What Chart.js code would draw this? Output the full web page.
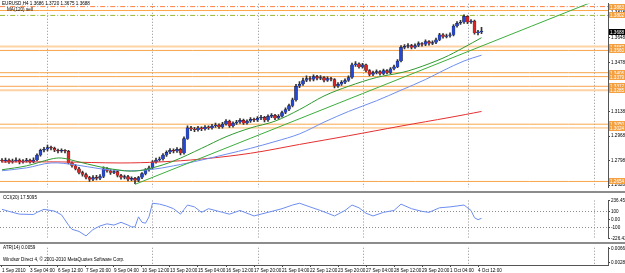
<!DOCTYPE html>
<html>
<head>
<meta charset="utf-8">
<script src="https://cdn.jsdelivr.net/npm/chart.js@4.4.1/dist/chart.umd.min.js"></script>
<style>
  html, body { margin: 0; padding: 0; background: #fff; }
  #wrap { position: relative; width: 625px; height: 273px; overflow: hidden; background: #fff; }
  #wrap canvas, .sep { position: absolute; left: 0; }
  .sep { width: 625px; background: #8c8c8c; }
</style>
</head>
<body>
<div id="wrap">
  <canvas id="main" width="625" height="191" style="top:0"></canvas>
  <div class="sep" style="top:191px;height:2px"></div>
  <canvas id="cci" width="625" height="49" style="top:193px"></canvas>
  <div class="sep" style="top:242px;height:2px"></div>
  <canvas id="atr" width="625" height="29" style="top:244px"></canvas>
</div>
<script>
/* EURUSD H4, 1 Sep 20:00 .. 4 Oct 16:00 (bar index 0..137) */

const opens = [
  1.2800, 1.2795, 1.2802, 1.2789, 1.2795, 1.2802, 1.2789, 1.2795, 1.2802, 1.2789,
  1.2802, 1.2836, 1.2869, 1.2876, 1.2889, 1.2883, 1.2869, 1.2863, 1.2869, 1.2863,
  1.2782, 1.2762, 1.2742, 1.2715, 1.2702, 1.2681, 1.2668, 1.2681, 1.2675, 1.2688,
  1.2742, 1.2728, 1.2715, 1.2722, 1.2695, 1.2681, 1.2688, 1.2668, 1.2675, 1.2661,
  1.2681, 1.2708, 1.2735, 1.2748, 1.2789, 1.2802, 1.2809, 1.2836, 1.2856, 1.2869,
  1.2863, 1.2876, 1.2849, 1.2950, 1.3024, 1.3017, 1.3010, 1.3024, 1.3017, 1.3030,
  1.3024, 1.3037, 1.3044, 1.3030, 1.3050, 1.3071, 1.3037, 1.3057, 1.3064, 1.3077,
  1.3057, 1.3071, 1.3084, 1.3077, 1.3091, 1.3097, 1.3077, 1.3104, 1.3111, 1.3091,
  1.3104, 1.3131, 1.3151, 1.3178, 1.3218, 1.3312, 1.3326, 1.3352, 1.3366, 1.3359,
  1.3379, 1.3366, 1.3373, 1.3352, 1.3366, 1.3359, 1.3312, 1.3326, 1.3339, 1.3352,
  1.3373, 1.3460, 1.3467, 1.3446, 1.3460, 1.3420, 1.3393, 1.3406, 1.3413, 1.3399,
  1.3420, 1.3406, 1.3433, 1.3446, 1.3487, 1.3581, 1.3587, 1.3594, 1.3581, 1.3594,
  1.3607, 1.3601, 1.3621, 1.3607, 1.3614, 1.3634, 1.3668, 1.3654, 1.3661, 1.3668,
  1.3728, 1.3748, 1.3755, 1.3795, 1.3755, 1.3762, 1.3681, 1.3686
];
const highs = [
  1.2812, 1.2815, 1.2810, 1.2808, 1.2818, 1.2811, 1.2806, 1.2814, 1.2809, 1.2817,
  1.2845, 1.2878, 1.2890, 1.2906, 1.2899, 1.2891, 1.2878, 1.2880, 1.2875, 1.2870,
  1.2790, 1.2770, 1.2751, 1.2725, 1.2712, 1.2690, 1.2694, 1.2696, 1.2702, 1.2755,
  1.2750, 1.2736, 1.2735, 1.2729, 1.2703, 1.2699, 1.2697, 1.2686, 1.2683, 1.2690,
  1.2716, 1.2743, 1.2760, 1.2798, 1.2815, 1.2822, 1.2847, 1.2866, 1.2882, 1.2879,
  1.2888, 1.2884, 1.2962, 1.3038, 1.3036, 1.3028, 1.3035, 1.3032, 1.3041, 1.3038,
  1.3049, 1.3058, 1.3052, 1.3062, 1.3082, 1.3078, 1.3066, 1.3077, 1.3089, 1.3085,
  1.3080, 1.3096, 1.3093, 1.3103, 1.3112, 1.3105, 1.3115, 1.3124, 1.3118, 1.3116,
  1.3140, 1.3163, 1.3189, 1.3230, 1.3326, 1.3345, 1.3368, 1.3385, 1.3379, 1.3392,
  1.3388, 1.3386, 1.3380, 1.3377, 1.3374, 1.3366, 1.3337, 1.3351, 1.3363, 1.3384,
  1.3472, 1.3482, 1.3475, 1.3471, 1.3466, 1.3428, 1.3417, 1.3425, 1.3420, 1.3431,
  1.3428, 1.3442, 1.3459, 1.3496, 1.3593, 1.3601, 1.3607, 1.3602, 1.3606, 1.3619,
  1.3615, 1.3633, 1.3628, 1.3626, 1.3645, 1.3679, 1.3676, 1.3673, 1.3681, 1.3738,
  1.3760, 1.3768, 1.3806, 1.3800, 1.3774, 1.3769, 1.3699, 1.3720
];
const lows = [
  1.2788, 1.2786, 1.2779, 1.2781, 1.2790, 1.2776, 1.2780, 1.2788, 1.2781, 1.2784,
  1.2798, 1.2829, 1.2858, 1.2866, 1.2872, 1.2860, 1.2852, 1.2855, 1.2851, 1.2775,
  1.2752, 1.2733, 1.2706, 1.2690, 1.2672, 1.2655, 1.2660, 1.2664, 1.2667, 1.2680,
  1.2718, 1.2703, 1.2708, 1.2686, 1.2670, 1.2672, 1.2657, 1.2659, 1.2638, 1.2652,
  1.2674, 1.2699, 1.2726, 1.2740, 1.2781, 1.2794, 1.2801, 1.2828, 1.2847, 1.2852,
  1.2855, 1.2838, 1.2843, 1.2944, 1.3005, 1.2998, 1.3002, 1.3006, 1.3009, 1.3014,
  1.3016, 1.3028, 1.3021, 1.3022, 1.3043, 1.3027, 1.3030, 1.3048, 1.3055, 1.3049,
  1.3050, 1.3063, 1.3068, 1.3070, 1.3082, 1.3066, 1.3070, 1.3095, 1.3082, 1.3085,
  1.3098, 1.3122, 1.3143, 1.3170, 1.3210, 1.3302, 1.3318, 1.3344, 1.3348, 1.3350,
  1.3356, 1.3358, 1.3343, 1.3345, 1.3349, 1.3300, 1.3305, 1.3318, 1.3331, 1.3345,
  1.3366, 1.3450, 1.3437, 1.3438, 1.3411, 1.3383, 1.3386, 1.3397, 1.3389, 1.3392,
  1.3397, 1.3400, 1.3425, 1.3440, 1.3480, 1.3570, 1.3578, 1.3571, 1.3574, 1.3586,
  1.3590, 1.3593, 1.3597, 1.3600, 1.3606, 1.3627, 1.3645, 1.3646, 1.3652, 1.3661,
  1.3720, 1.3739, 1.3747, 1.3745, 1.3746, 1.3672, 1.3667, 1.3675
];
const closes = [
  1.2795, 1.2802, 1.2789, 1.2795, 1.2802, 1.2789, 1.2795, 1.2802, 1.2789, 1.2802,
  1.2836, 1.2869, 1.2876, 1.2889, 1.2883, 1.2869, 1.2863, 1.2869, 1.2863, 1.2782,
  1.2762, 1.2742, 1.2715, 1.2702, 1.2681, 1.2668, 1.2681, 1.2675, 1.2688, 1.2742,
  1.2728, 1.2715, 1.2722, 1.2695, 1.2681, 1.2688, 1.2668, 1.2675, 1.2661, 1.2681,
  1.2708, 1.2735, 1.2748, 1.2789, 1.2802, 1.2809, 1.2836, 1.2856, 1.2869, 1.2863,
  1.2876, 1.2849, 1.2950, 1.3024, 1.3017, 1.3010, 1.3024, 1.3017, 1.3030, 1.3024,
  1.3037, 1.3044, 1.3030, 1.3050, 1.3071, 1.3037, 1.3057, 1.3064, 1.3077, 1.3057,
  1.3071, 1.3084, 1.3077, 1.3091, 1.3097, 1.3077, 1.3104, 1.3111, 1.3091, 1.3104,
  1.3131, 1.3151, 1.3178, 1.3218, 1.3312, 1.3326, 1.3352, 1.3366, 1.3359, 1.3379,
  1.3366, 1.3373, 1.3352, 1.3366, 1.3359, 1.3312, 1.3326, 1.3339, 1.3352, 1.3373,
  1.3460, 1.3467, 1.3446, 1.3460, 1.3420, 1.3393, 1.3406, 1.3413, 1.3399, 1.3420,
  1.3406, 1.3433, 1.3446, 1.3487, 1.3581, 1.3587, 1.3594, 1.3581, 1.3594, 1.3607,
  1.3601, 1.3621, 1.3607, 1.3614, 1.3634, 1.3668, 1.3654, 1.3661, 1.3668, 1.3728,
  1.3748, 1.3755, 1.3795, 1.3755, 1.3762, 1.3681, 1.3686, 1.3688
];

// moving averages, read at some bars only
const slowMaBars = [0, 17, 34, 45, 57, 71, 85, 99, 114, 128, 137];
const slowMa = [1.2789, 1.2789, 1.2782, 1.2789, 1.2809, 1.2849, 1.2910, 1.2970, 1.3037, 1.3097, 1.3138];
const midMaBars = [0, 7, 14, 21, 28, 35, 42, 49, 57, 64, 71, 78, 85, 92, 99, 107, 114, 121, 126, 132, 137];
const midMa = [1.2728, 1.2748, 1.2782, 1.2769, 1.2742, 1.2728, 1.2735, 1.2762, 1.2802, 1.2842,
  1.2883, 1.2930, 1.2983, 1.3064, 1.3138, 1.3212, 1.3285, 1.3359, 1.3420, 1.3487, 1.3527];
const fastMaBars = [0, 7, 14, 17, 21, 28, 35, 39, 43, 49, 57, 64, 71, 78, 85, 92, 99, 107, 114, 118, 126, 132, 137];
const fastMa = [1.2735, 1.2762, 1.2809, 1.2816, 1.2795, 1.2755, 1.2728, 1.2728, 1.2748, 1.2795,
  1.2883, 1.2963, 1.3024, 1.3071, 1.3151, 1.3245, 1.3312, 1.3373, 1.3406, 1.3433,
  1.3507, 1.3581, 1.3648];

// trend line (two anchor points)
const trendBars = [38, 168];
const trendPrices = [1.2634, 1.3889];

// horizontal levels
const levelPrices = [1.3863, 1.3836, 1.3802, 1.3587, 1.3560, 1.3406, 1.3379, 1.3312, 1.3285, 1.3050, 1.3024, 1.2654];

// CCI(20)
const cciBars = [0, 2, 5, 9, 10, 12, 15, 17, 19, 20, 22, 24, 26, 28, 30, 32, 34, 36, 37, 38,
  39, 40, 41, 42, 43, 45, 47, 49, 51, 52, 53, 55, 57, 59, 63, 65, 68, 72, 76, 80,
  83, 85, 88, 91, 95, 98, 100, 102, 104, 106, 109, 112, 114, 117, 120, 122, 125, 128, 130, 132,
  134, 135, 136, 137];
const cciValues = [128, 103, 69, 65, 91, 128, 106, 61, -65, -117, -143, -198, -120, -76, -50, -65, -31, -65, -87, -87,
  36, -31, -42, 36, 203, 192, 169, 136, 69, 125, 181, 158, 91, 136, 91, 69, 114, 47, 91, 136,
  181, 203, 158, 114, 47, 114, 181, 147, 80, 47, 91, 114, 192, 136, 103, 91, 147, 158, 169, 181,
  114, 25, 2, 17.5095];
const atrLast = 0.0059;

// axes
const priceTicks = [1.2628, 1.2798, 1.2968, 1.3138, 1.3308, 1.3478, 1.3648, 1.3818];
const cciTicks = [-226.435, -100, 0, 100, 236.458];
const cciTickText = ['-226.435', '-100', '0.00', '100', '236.458'];
const atrTicks = [0.0028, 0.0066];
const labelBars = [0, 8, 16, 24, 32, 40, 48, 56, 64, 72, 80, 88, 96, 104, 112, 120, 128, 136];
const timeLabels = ['1 Sep 2010', '3 Sep 04:00', '6 Sep 12:00', '7 Sep 20:00', '9 Sep 04:00', '10 Sep 12:00',
  '13 Sep 20:00', '15 Sep 04:00', '16 Sep 12:00', '17 Sep 20:00', '21 Sep 04:00', '22 Sep 12:00',
  '23 Sep 20:00', '27 Sep 04:00', '28 Sep 12:00', '29 Sep 20:00', '1 Oct 04:00', '4 Oct 12:00'];
const gridBars = [13, 43, 73, 103, 133, 169];

// styles
const FONT = { family: '"Liberation Sans", Arial, sans-serif', size: 4.6 };
const X_MIN = -0.57, X_MAX = 173.14;
const levelColors = ['#ff7f3f', '#ffa64d', '#9cb833', '#fdd2a4', '#f7a54a', '#f7a54a',
  '#f7a54a', '#f7a54a', '#fdd2a4', '#f7a54a', '#f9b869', '#f7a54a'];
const levelWidths = [1, 1, 1, 2, 1, 1, 1, 1, 2, 1, 1, 1];
const levelDashes = [[5, 2, 1, 2], [], [5, 2, 1, 2], [], [], [], [], [], [], [], [], []];
const levelBoxed = [true, false, true, true, true, true, true, true, true, true, true, true];

// MT4 style: vertical dotted grid + texts + price boxes on the right scale
const mtPanel = {
  id: 'mtPanel',
  beforeDatasetsDraw(chart) {
    const { ctx, chartArea: a, scales } = chart;
    ctx.save();
    ctx.strokeStyle = '#8e8e8e';
    ctx.lineWidth = 1;
    ctx.setLineDash([1, 2]);
    gridBars.forEach((b) => {
      const px = Math.round(scales.x.getPixelForValue(b)) + 0.5;
      ctx.beginPath();
      ctx.moveTo(px, a.top);
      ctx.lineTo(px, a.bottom);
      ctx.stroke();
    });
    ctx.restore();
  },
  afterDraw(chart, args, opts) {
    const { ctx, chartArea: a, scales } = chart;
    ctx.save();
    ctx.font = `${FONT.size}px ${FONT.family}`;
    ctx.textBaseline = 'middle';
    (opts.texts || []).forEach((t) => {
      ctx.fillStyle = t.color || '#000';
      ctx.fillText(t.text, t.x, t.y);
    });
    (opts.boxes || []).forEach((b) => {
      const py = Math.round(scales.y.getPixelForValue(b.value));
      ctx.fillStyle = b.bg;
      ctx.fillRect(a.right + 1, py - 3, 16, 6);
      ctx.fillStyle = b.fg;
      ctx.fillText(b.text, a.right + 2, py + 0.5);
    });
    ctx.restore();
  },
};
Chart.register(mtPanel);

const xScale = { type: 'linear', min: X_MIN, max: X_MAX, offset: false, display: false };
const yRight = (extra) => Object.assign({
  position: 'right',
  afterFit: (s) => { s.width = 17; },
  ticks: { font: FONT, color: '#000', padding: 1 },
  grid: { drawOnChartArea: false, tickLength: 2, tickColor: '#444' },
  border: { color: '#555' },
}, extra);
const baseOpts = { responsive: false, animation: false, events: [], devicePixelRatio: 1 };

/* main price window */
const last = closes.length - 1;
const bars = closes.map((c, i) => i);
const line = (xs, ys, color, width, dash, order) => ({
  type: 'line',
  data: xs.map((x, i) => ({ x: x, y: ys[i] })),
  borderColor: color, borderWidth: width, borderDash: dash || [],
  pointRadius: 0, tension: 0.35, order: order,
});

const datasets = [
  line(fastMaBars, fastMa, '#2f9a2f', 1, [], 0),
  line(trendBars, trendPrices, '#3cae3c', 1, [], 1),
  line(midMaBars, midMa, '#6d8ef0', 1, [], 2),
  line(slowMaBars, slowMa, '#e53030', 1, [], 3),
  {
    type: 'bar', grouped: false, order: 5,
    data: bars.map((i) => ({ x: i, y: [Math.min(opens[i], closes[i]), Math.max(opens[i], closes[i])] })),
    backgroundColor: bars.map((i) => (closes[i] >= opens[i] ? '#2447d6' : '#e12222')),
    borderColor: '#1a1a1a', borderWidth: 0.5,
    barThickness: 3, minBarLength: 1,
  },
  {
    type: 'bar', grouped: false, order: 6,
    data: bars.map((i) => ({ x: i, y: [lows[i], highs[i]] })),
    backgroundColor: '#333', barThickness: 1,
  },
].concat(levelPrices.map((p, k) => line([X_MIN, X_MAX], [p, p], levelColors[k], levelWidths[k], levelDashes[k], 10)));

const boxes = levelPrices
  .map((p, k) => ({ value: p, text: p.toFixed(4), bg: '#f5a040', fg: '#fff', show: levelBoxed[k] }))
  .filter((b) => b.show)
  .concat([{ value: closes[last], text: closes[last].toFixed(4), bg: '#000', fg: '#fff' }]);

new Chart(document.getElementById('main'), {
  type: 'bar',
  data: { datasets: datasets },
  options: Object.assign({}, baseOpts, {
    layout: { padding: { top: 1, bottom: 1, left: 0, right: 0 } },
    plugins: {
      legend: { display: false }, tooltip: { enabled: false },
      mtPanel: {
        texts: [
          { text: `EURUSD,H4 ${opens[last].toFixed(4)} ${highs[last].toFixed(4)} ${lows[last].toFixed(4)} ${closes[last].toFixed(4)}`, x: 2, y: 4 },
          { text: 'MA(120) sell', x: 7, y: 10 },
        ],
        boxes: boxes,
      },
    },
    scales: {
      x: xScale,
      y: yRight({
        min: 1.26141, max: 1.38826,
        afterBuildTicks: (s) => { s.ticks = priceTicks.map((v) => ({ value: v })); },
        ticks: { font: FONT, color: '#000', padding: 1, callback: (v) => v.toFixed(4) },
      }),
    },
  }),
});

/* CCI window */
new Chart(document.getElementById('cci'), {
  type: 'line',
  data: {
    datasets: [{
      data: cciBars.map((b, i) => ({ x: b, y: cciValues[i] })),
      borderColor: '#6d8ef0', borderWidth: 1, pointRadius: 0, tension: 0,
    }],
  },
  options: Object.assign({}, baseOpts, {
    layout: { padding: { top: 7.5, bottom: 0.5, left: 0, right: 0 } },
    plugins: {
      legend: { display: false }, tooltip: { enabled: false },
      mtPanel: { texts: [{ text: `CCI(20) ${cciValues[cciValues.length - 1].toFixed(4)}`, x: 3, y: 5 }] },
    },
    scales: {
      x: xScale,
      y: yRight({
        min: -226.435, max: 236.458,
        afterBuildTicks: (s) => { s.ticks = cciTicks.map((v) => ({ value: v })); },
        ticks: { font: FONT, color: '#000', padding: 1, callback: (v) => cciTickText[cciTicks.indexOf(v)] },
        grid: {
          drawOnChartArea: true, tickLength: 2, tickColor: '#444',
          color: (c) => (Math.abs(c.tick && c.tick.value) === 100 ? '#8e8e8e' : 'rgba(0,0,0,0)'),
        },
        border: { color: '#555', dash: [1, 2] },
      }),
    },
  }),
});

/* ATR window with the time scale */
new Chart(document.getElementById('atr'), {
  type: 'line',
  data: { datasets: [] },
  options: Object.assign({}, baseOpts, {
    layout: { padding: { top: 0.5, bottom: 0, left: 0, right: 0 } },
    plugins: {
      legend: { display: false }, tooltip: { enabled: false },
      mtPanel: {
        texts: [
          { text: `ATR(14) ${atrLast.toFixed(4)}`, x: 3, y: 3.5 },
          { text: 'Windsor Direct 4, © 2001-2010 MetaQuotes Software Corp.', x: 3, y: 15.5 },
        ],
      },
    },
    scales: {
      x: {
        type: 'linear', min: X_MIN, max: X_MAX, offset: false, position: 'bottom',
        afterFit: (s) => { s.height = 8; },
        afterBuildTicks: (s) => { s.ticks = labelBars.map((v) => ({ value: v })); },
        ticks: {
          font: FONT, color: '#000', align: 'start', padding: 0.5,
          maxRotation: 0, autoSkip: false, callback: (v, i) => timeLabels[i],
        },
        grid: { drawOnChartArea: false, tickLength: 2, tickColor: '#444' },
        border: { color: '#555' },
      },
      y: yRight({
        min: 0.00211, max: 0.00683,
        afterBuildTicks: (s) => { s.ticks = atrTicks.map((v) => ({ value: v })); },
        ticks: { font: FONT, color: '#000', padding: 1, callback: (v) => v.toFixed(4) },
      }),
    },
  }),
});
</script>
</body>
</html>
